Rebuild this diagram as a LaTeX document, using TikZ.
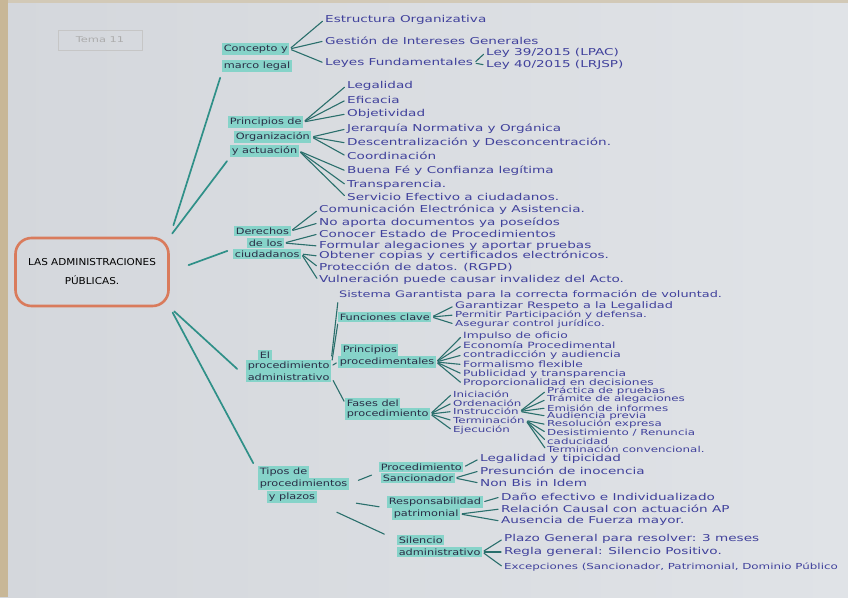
\documentclass[tikz,border=0pt]{standalone}
\usepackage{fontspec}
\newfontfamily\hand[FakeStretch=1.43]{DejaVu Sans}
\newfontfamily\handcat[FakeStretch=1.3]{DejaVu Sans}
\newfontfamily\handcaps[FakeStretch=1.1]{DejaVu Sans}
\definecolor{paper}{HTML}{E0E3E7}
\definecolor{paperdark}{HTML}{D4D7DC}
\definecolor{edge}{HTML}{C8B797}
\definecolor{ink}{HTML}{40419C}
\definecolor{darkink}{HTML}{2A2D45}
\definecolor{hl}{HTML}{86D3C9}
\definecolor{linkc}{HTML}{2F9088}
\definecolor{twigc}{HTML}{2A6F6C}
\definecolor{rootc}{HTML}{D97B5C}
\tikzset{
  leaf/.style={anchor=west, inner sep=1pt, text=ink, font=\hand\fontsize{9.5}{10}\selectfont},
  mleaf/.style={leaf, font=\hand\fontsize{9}{9.5}\selectfont},
  qleaf/.style={leaf, font=\hand\fontsize{8.6}{9}\selectfont},
  sleaf/.style={leaf, font=\hand\fontsize{8.3}{8.5}\selectfont},
  cat/.style={anchor=west, fill=hl, inner sep=1.6pt, text=darkink, font=\handcat\fontsize{8.7}{9}\selectfont},
  link/.style={draw=linkc, line width=1.7pt, line cap=round},
  twig/.style={draw=twigc, line width=1.1pt, line cap=round, shorten <=2pt, shorten >=2pt},
  rootbox/.style={draw=rootc, line width=2.6pt, rounded corners=16pt, minimum width=153pt,
    minimum height=68pt, align=center, text=black, font=\handcaps\fontsize{9.5}{10}\selectfont},
  tema/.style={draw=gray!45, line width=0.6pt, text=gray!65, minimum width=84pt, minimum height=20pt,
    font=\hand\fontsize{8}{9}\selectfont},
}
\begin{document}
\begin{tikzpicture}[x=1pt,y=-1pt]
\useasboundingbox (0,0) rectangle (848,597);
\clip (0,0) rectangle (848,597);
% paper
\shade[left color=paperdark, right color=paper] (0,0) rectangle (848,597);
\fill[edge] (0,0) rectangle (8,597);
\fill[edge!60!paper] (8,0) rectangle (848,3);

\node[tema] (tema) at (100,40) {Tema 11};

% root
\node[rootbox] (root) at (92,272) {LAS ADMINISTRACIONES\\[9pt]PÚBLICAS.};

% ---------- 1 Concepto y marco legal
\node[cat] (c1a) at (222,49) {Concepto y};
\node[cat] (c1b) at (222,66) {marco legal};
\node[leaf] (e11) at (324,20) {Estructura Organizativa};
\node[leaf] (e12) at (324,41) {Gestión de Intereses Generales};
\node[leaf] (e13) at (324,63) {Leyes Fundamentales};
\node[leaf] (e131) at (485,53) {Ley 39/2015 (LPAC)};
\node[leaf] (e132) at (485,65) {Ley 40/2015 (LRJSP)};
\draw[twig] (c1a.east) -- (e11.west);
\draw[twig] (c1a.east) -- (e12.west);
\draw[twig] (c1a.east) -- (e13.west);
\draw[twig] (e13.east) -- (e131.west);
\draw[twig] (e13.east) -- (e132.west);

% ---------- 2 Principios de organizacion
\node[cat] (c2a) at (228,122) {Principios de};
\node[cat] (c2b) at (234,137) {Organización};
\node[cat] (c2c) at (230,151) {y actuación};
\node[leaf] (p1) at (346,86) {Legalidad};
\node[leaf] (p2) at (346,100) {Eficacia};
\node[leaf] (p3) at (346,114) {Objetividad};
\node[leaf] (p4) at (346,129) {Jerarquía Normativa y Orgánica};
\node[leaf] (p5) at (346,143) {Descentralización y Desconcentración.};
\node[leaf] (p6) at (346,156) {Coordinación};
\node[leaf] (p7) at (346,171) {Buena Fé y Confianza legítima};
\node[leaf] (p8) at (346,185) {Transparencia.};
\node[leaf] (p9) at (346,197) {Servicio Efectivo a ciudadanos.};
\foreach \n in {p1,p2,p3} \draw[twig] (c2a.east) -- (\n.west);
\foreach \n in {p4,p5,p6} \draw[twig] (c2b.east) -- (\n.west);
\foreach \n in {p7,p8,p9} \draw[twig] (c2c.east) -- (\n.west);

% ---------- 3 Derechos
\node[cat] (c3a) at (234,231) {Derechos};
\node[cat] (c3b) at (247,243) {de los};
\node[cat] (c3c) at (233,254) {ciudadanos};
\node[leaf] (d1) at (318,210) {Comunicación Electrónica y Asistencia.};
\node[leaf] (d2) at (318,223) {No aporta documentos ya poseídos};
\node[leaf] (d3) at (318,234) {Conocer Estado de Procedimientos};
\node[leaf] (d4) at (318,246) {Formular alegaciones y aportar pruebas};
\node[leaf] (d5) at (318,256) {Obtener copias y certificados electrónicos.};
\node[leaf] (d6) at (318,267) {Protección de datos. (RGPD)};
\node[leaf] (d7) at (318,280) {Vulneración puede causar invalidez del Acto.};
\foreach \n in {d1,d2} \draw[twig] (c3a.east) -- (\n.west);
\foreach \n in {d3,d4} \draw[twig] (c3b.east) -- (\n.west);
\foreach \n in {d5,d6,d7} \draw[twig] (c3c.east) -- (\n.west);

% ---------- 4 El procedimiento administrativo
\node[cat] (c4a) at (258,355) {El};
\node[cat] (c4b) at (246,366) {procedimiento};
\node[cat] (c4c) at (246,377) {administrativo};
\node[mleaf] (sg) at (338,295) {Sistema Garantista para la correcta formación de voluntad.};
\node[cat] (fc) at (338,317) {Funciones clave};
\node[mleaf] (f1) at (454,306) {Garantizar Respeto a la Legalidad};
\node[sleaf] (f2) at (454,315) {Permitir Participación y defensa.};
\node[sleaf] (f3) at (454,324) {Asegurar control jurídico.};
\node[cat] (ppa) at (341,350) {Principios};
\node[cat] (ppb) at (338,362) {procedimentales};
\node[qleaf] (q1) at (462,336) {Impulso de oficio};
\node[qleaf] (q2) at (462,345.5) {Economía Procedimental};
\node[qleaf] (q3) at (462,355) {contradicción y audiencia};
\node[qleaf] (q4) at (462,364.5) {Formalismo flexible};
\node[qleaf] (q5) at (462,374) {Publicidad y transparencia};
\node[qleaf] (q6) at (462,383.5) {Proporcionalidad en decisiones};
\node[cat] (fa) at (345,403) {Fases del};
\node[cat] (fb) at (345,414) {procedimiento};
\node[sleaf] (h1) at (452,394) {Iniciación};
\node[sleaf] (h2) at (452,403) {Ordenación};
\node[sleaf] (h3) at (452,411.5) {Instrucción};
\node[sleaf] (h4) at (452,420.5) {Terminación};
\node[sleaf] (h5) at (452,430) {Ejecución};
\node[sleaf] (i1) at (546,391) {Práctica de pruebas};
\node[sleaf] (i2) at (546,399.5) {Trámite de alegaciones};
\node[sleaf] (i3) at (546,408) {Emisión de informes};
\node[sleaf] (i4) at (546,416) {Audiencia previa};
\node[sleaf] (t1) at (546,424.5) {Resolución expresa};
\node[sleaf] (t2) at (546,432.5) {Desistimiento / Renuncia};
\node[sleaf] (t3) at (546,441) {caducidad};
\node[sleaf] (t4) at (546,449.5) {Terminación convencional.};
\draw[twig, shorten <=4pt] (c4b.north east) -- (sg.south west);
\draw[twig, shorten <=6pt] (c4b.east) -- (fc.south west);
\draw[twig] (c4b.east) -- (ppb.west);
\draw[twig, shorten <=4pt] (c4c.east) -- (fa.west);
\foreach \n in {f1,f2,f3} \draw[twig] (fc.east) -- (\n.west);
\foreach \n in {q1,q2,q3,q4,q5,q6} \draw[twig] (ppb.east) -- (\n.west);
\foreach \n in {h1,h2,h3,h4,h5} \draw[twig] (fb.east) -- (\n.west);
\foreach \n in {i1,i2,i3,i4} \draw[twig] (h3.east) -- (\n.west);
\foreach \n in {t1,t2,t3,t4} \draw[twig] (h4.east) -- (\n.west);

% ---------- 5 Tipos de procedimientos y plazos
\node[cat] (c5a) at (258,472) {Tipos de};
\node[cat] (c5b) at (258,484) {procedimientos};
\node[cat] (c5c) at (267,497) {y plazos};
\node[cat] (psa) at (379,467) {Procedimiento};
\node[cat] (psb) at (381,478) {Sancionador};
\node[leaf] (s1) at (479,459) {Legalidad y tipicidad};
\node[leaf] (s2) at (479,471) {Presunción de inocencia};
\node[leaf] (s3) at (479,483) {Non Bis in Idem};
\node[cat] (rpa) at (387,502) {Responsabilidad};
\node[cat] (rpb) at (392,514) {patrimonial};
\node[leaf] (r1) at (500,497) {Daño efectivo e Individualizado};
\node[leaf] (r2) at (500,509) {Relación Causal con actuación AP};
\node[leaf] (r3) at (500,521) {Ausencia de Fuerza mayor.};
\node[cat] (saa) at (397,540) {Silencio};
\node[cat] (sab) at (397,552) {administrativo};
\node[leaf] (a1) at (503,539) {Plazo General para resolver: 3 meses};
\node[leaf] (a2) at (503,552) {Regla general: Silencio Positivo.};
\node[leaf, font=\hand\fontsize{8.3}{9}\selectfont] (a3) at (503,567) {Excepciones (Sancionador, Patrimonial, Dominio Público};
\draw[twig, shorten <=10pt, shorten >=8pt] (c5b.east) -- (psa.south west);
\draw[twig, shorten <=40pt, shorten >=8pt] (c5c.east) -- (rpa.south west);
\draw[twig, shorten <=22pt, shorten >=14pt] (c5c.south east) -- (saa.west);
\draw[twig] (psa.east) -- (s1.west);
\foreach \n in {s2,s3} \draw[twig] (psb.east) -- (\n.west);
\draw[twig] (rpa.east) -- (r1.west);
\foreach \n in {r2,r3} \draw[twig] (rpb.east) -- (\n.west);
\foreach \n in {a1,a2,a3} \draw[twig] (sab.east) -- (\n.west);

% ---------- root branches
\draw[link, shorten <=12pt, shorten >=6pt] (root.north east) -- (c1b.south west);
\draw[link, shorten <=4pt, shorten >=5pt] (root.north east) -- (c2c.south west);
\draw[link, shorten <=20pt, shorten >=6pt] (root.east) -- (c3c.north west);
\draw[link, shorten <=6pt, shorten >=12pt] (root.south east) -- (c4c.west);
\draw[link, shorten <=6pt, shorten >=10pt] (root.south east) -- (c5a.west);
\end{tikzpicture}
\end{document}
